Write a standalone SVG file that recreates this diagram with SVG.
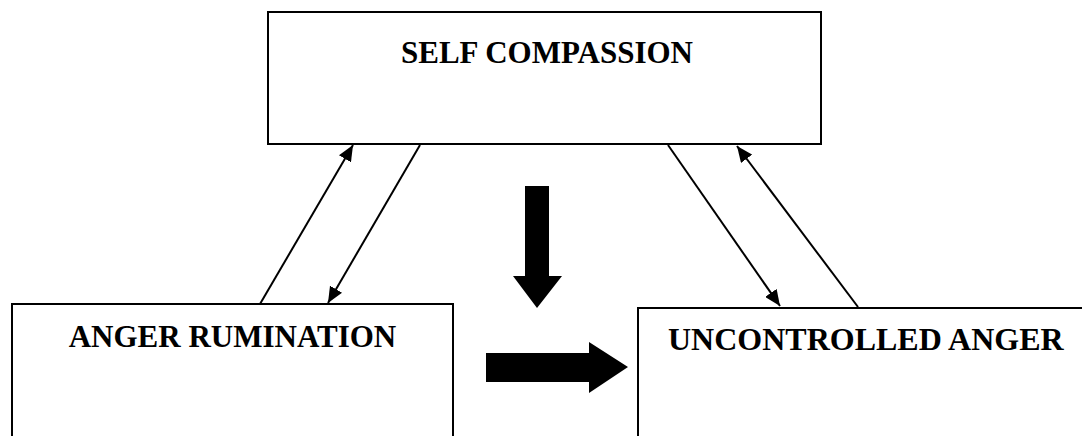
<svg xmlns="http://www.w3.org/2000/svg" width="1082" height="436" viewBox="0 0 1082 436">
<style>
.box{fill:#fff;stroke:#000;stroke-width:2}
.lbl{font-family:"Liberation Serif","Times New Roman",serif;font-weight:bold;font-size:31px;fill:#000}
.ln{stroke:#000;stroke-width:2;fill:none;marker-end:url(#ah)}
.big{fill:#000;stroke:none}
</style>
<defs>
<marker id="ah" markerUnits="userSpaceOnUse" markerWidth="18" markerHeight="14" refX="16" refY="7" orient="auto">
<path d="M0,0 L16,7 L0,14 Z" fill="#000"/>
</marker>
</defs>
<rect width="1082" height="436" fill="#fff"/>
<g id="self-compassion">
<rect class="box" x="268" y="12" width="553" height="132"/>
<text class="lbl" x="547" y="63" text-anchor="middle">SELF COMPASSION</text>
</g>
<g id="anger-rumination">
<rect class="box" x="12" y="304" width="441" height="140"/>
<text class="lbl" x="232.5" y="347" text-anchor="middle">ANGER RUMINATION</text>
</g>
<g id="uncontrolled-anger">
<rect class="box" x="638" y="308" width="460" height="140"/>
<text class="lbl" x="668" y="350" style="font-size:32px">UNCONTROLLED ANGER</text>
</g>
<g id="connectors">
<line class="ln" x1="260" y1="304" x2="353" y2="145"/>
<line class="ln" x1="420" y1="145" x2="328" y2="303"/>
<line class="ln" x1="668" y1="145" x2="780" y2="306"/>
<line class="ln" x1="858" y1="307" x2="737" y2="146"/>
<path class="big" d="M525,186 L549,186 L549,276 L562,276 L537,308 L513,276 L525,276 Z"/>
<path class="big" d="M486,353 L589,353 L589,342 L628,367 L589,393 L589,382 L486,382 Z"/>
</g>
</svg>
